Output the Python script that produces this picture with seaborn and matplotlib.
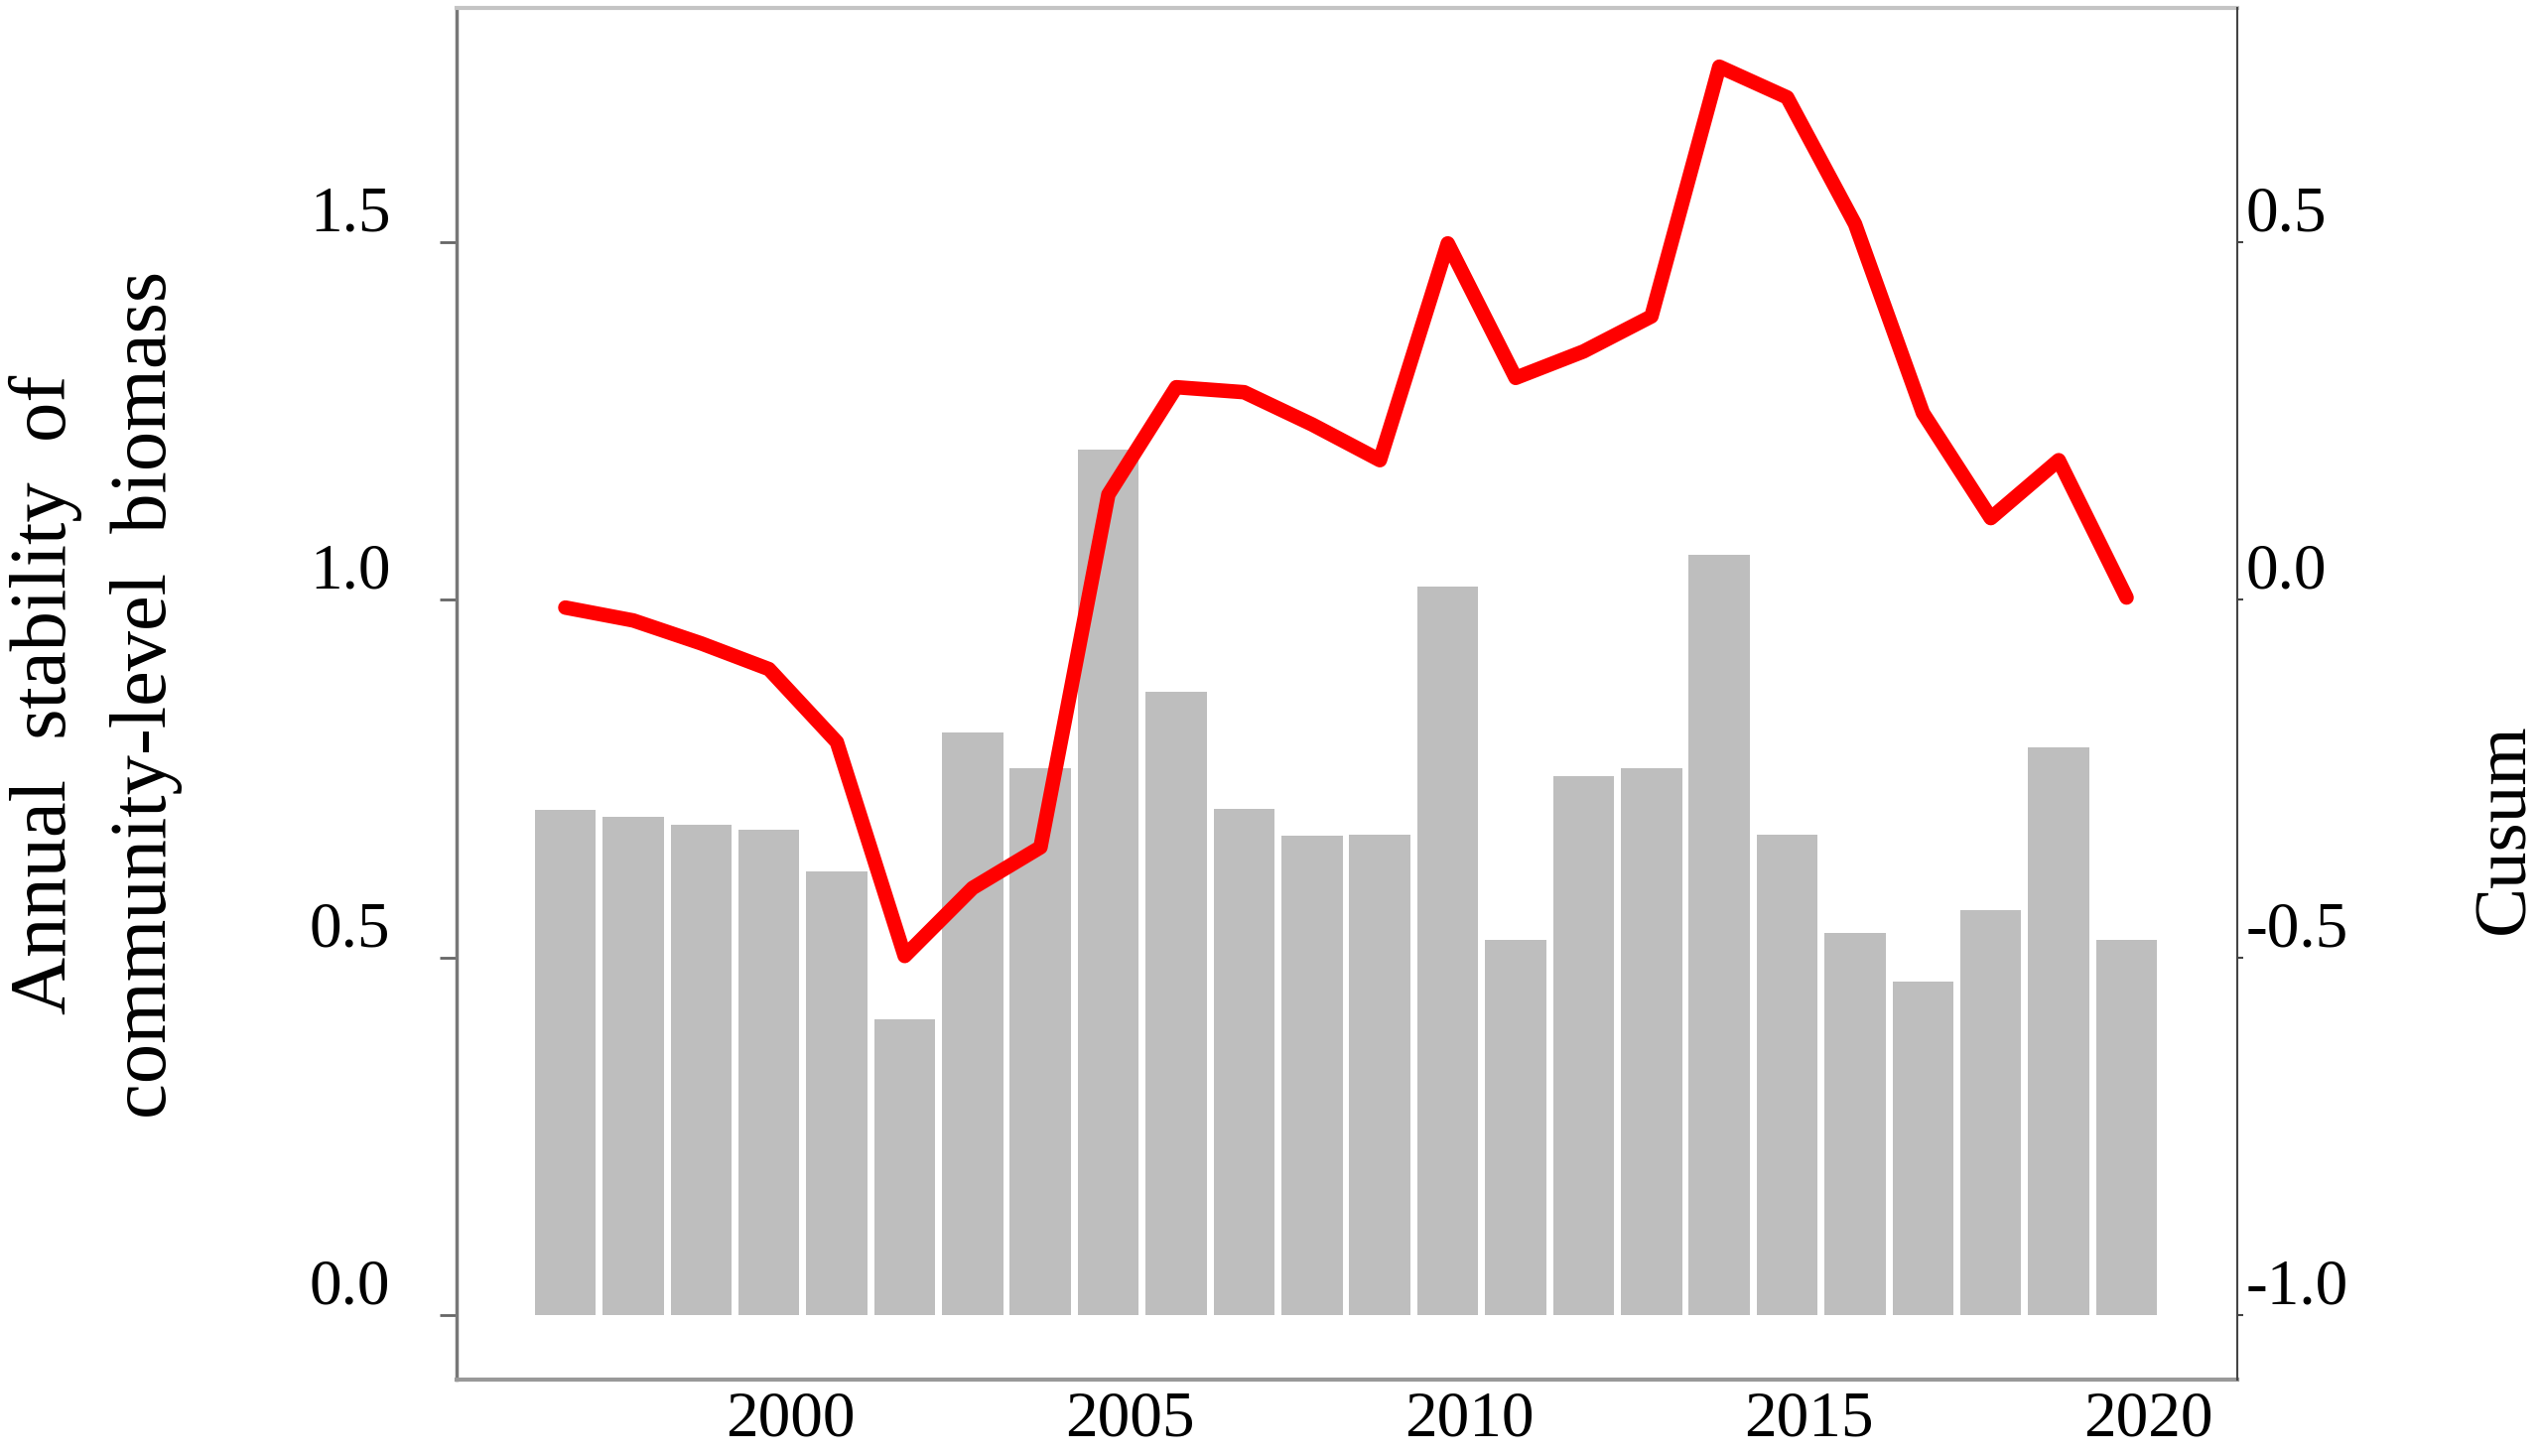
import numpy as np
import pandas as pd
import seaborn as sns
import matplotlib.pyplot as plt
from matplotlib.transforms import ScaledTranslation

# values
years = list(range(1996, 2020))
stability = [0.706, 0.697, 0.686, 0.679, 0.620, 0.414, 0.814, 0.765, 1.210, 0.871,
             0.708, 0.670, 0.672, 1.018, 0.525, 0.753, 0.765, 1.063, 0.672, 0.534,
             0.466, 0.566, 0.794, 0.525]
cusum = [-0.011, -0.029, -0.061, -0.097, -0.199, -0.498, -0.403, -0.346, 0.147, 0.297,
         0.290, 0.245, 0.195, 0.498, 0.310, 0.347, 0.396, 0.745, 0.702, 0.525,
         0.261, 0.114, 0.195, 0.003]

x_ticks = [1995, 2000, 2005, 2010, 2015, 2020]
x_tick_labels = ['', '2000', '2005', '2010', '2015', '2020']
left_ticks = [0.0, 0.5, 1.0, 1.5]
right_ticks = [-1.0, -0.5, 0.0, 0.5]

sns.set_theme(style='white')
plt.rcParams['font.family'] = ['Liberation Serif', 'DejaVu Serif']
plt.rcParams['text.color'] = 'black'
plt.rcParams['xtick.labelcolor'] = 'black'
plt.rcParams['ytick.labelcolor'] = 'black'

df = pd.DataFrame({'Year': years, 'Stability': stability, 'Cusum': cusum})

fig = plt.figure(figsize=(25.59, 14.67), dpi=100)
ax = fig.add_axes([0.1798, 0.0525, 0.701, 0.942])

sns.barplot(data=df, x='Year', y='Stability', native_scale=True, width=0.9,
            color='#bebebe', saturation=1, linewidth=0, ax=ax)
ax.set_xlim(1994.40, 2020.63)
ax.set_ylim(-0.09, 1.827)
ax.set(xlabel='', ylabel='')

ax2 = ax.twinx()
sns.lineplot(data=df, x='Year', y='Cusum', color='#ff0000', linewidth=10.5, ax=ax2)
ax2.set_ylim(-1.09, 0.827)
ax2.set(xlabel='', ylabel='')

tick_size = 47
ax.set_xticks(x_ticks)
ax.set_xticklabels(x_tick_labels, fontsize=tick_size, ha='right', color='black')
ax.set_yticks(left_ticks)
ax.set_yticklabels(['%.1f' % t for t in left_ticks], fontsize=tick_size, color='black')
ax2.set_yticks(right_ticks)
ax2.set_yticklabels(['%.1f' % t for t in right_ticks], fontsize=tick_size, color='black')

ax.tick_params(axis='x', length=5, width=2, color='#555555', direction='out', pad=3)
ax.tick_params(axis='y', length=12, width=2, color='#666666', direction='out', pad=36)
ax2.tick_params(axis='y', length=4, width=1.5, color='#444444', direction='out', pad=2)

# labels in the reference sit a little above / beside their ticks
up = ScaledTranslation(0, 0.34, fig.dpi_scale_trans)
for lab in ax.get_yticklabels() + ax2.get_yticklabels():
    lab.set_transform(lab.get_transform() + up)
right = ScaledTranslation(0.19, 0, fig.dpi_scale_trans)
for lab in ax.get_xticklabels():
    lab.set_transform(lab.get_transform() + right)

for s in ['top', 'left', 'bottom']:
    ax2.spines[s].set_visible(False)
ax.spines['right'].set_visible(False)
ax.spines['left'].set_color('#777777')
ax.spines['left'].set_linewidth(2.5)
ax.spines['bottom'].set_color('#999999')
ax.spines['bottom'].set_linewidth(3)
ax.spines['top'].set_color('#c4c4c4')
ax.spines['top'].set_linewidth(3)
ax2.spines['right'].set_color('#444444')
ax2.spines['right'].set_linewidth(1.5)

fig.text(0.0375, 0.523, 'Annual  stability  of\ncommunity-level  biomass',
         rotation=90, ha='center', va='center', fontsize=58, linespacing=1.5)
fig.text(0.9867, 0.431, 'Cusum', rotation=90, ha='center', va='center', fontsize=54)

fig.savefig('out.png', dpi=100)
